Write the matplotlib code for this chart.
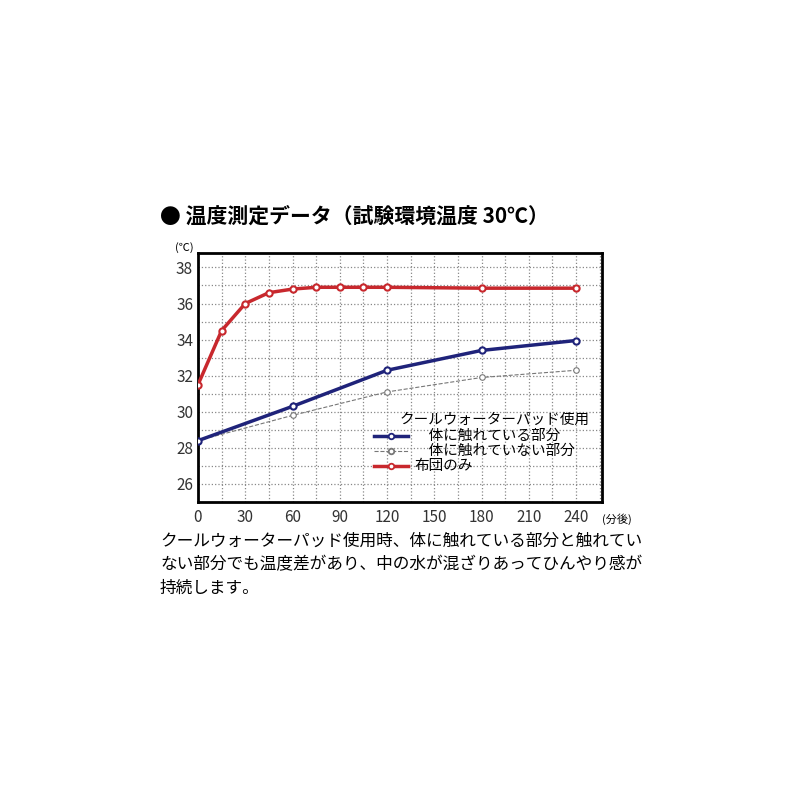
import matplotlib.pyplot as plt

plt.rcParams['font.family'] = ['Noto Sans CJK JP', 'DejaVu Sans']

# === Data ===
red_x = [0, 15, 30, 45, 60, 75, 90, 105, 120, 180, 240]
red_y = [31.5, 34.5, 36.0, 36.6, 36.8, 36.9, 36.9, 36.9, 36.9, 36.85, 36.85]
blue_x = [0, 60, 120, 180, 240]
blue_y = [28.4, 30.3, 32.3, 33.4, 33.95]
gray_x = [0, 60, 120, 180, 240]
gray_y = [28.4, 29.8, 31.1, 31.9, 32.3]
x_ticks = [0, 30, 60, 90, 120, 150, 180, 210, 240]
y_ticks = [26, 28, 30, 32, 34, 36, 38]

W = H = 800
fig = plt.figure(figsize=(8, 8), dpi=100)
ax = fig.add_axes([198 / W, 1 - 502 / H, (602 - 198) / W, (502 - 253) / H])

ax.plot(red_x, red_y, color='#c8282d', lw=2.5, marker='o', ms=4.5, mfc='white', mec='#c8282d', mew=1.5, zorder=4)
ax.plot(blue_x, blue_y, color='#1f237a', lw=2.5, marker='o', ms=4.5, mfc='white', mec='#1f237a', mew=1.5, zorder=4)
ax.plot(gray_x, gray_y, color='#777777', lw=0.8, ls='--', marker='o', ms=4, mfc='white', mec='#777777', mew=0.8, zorder=3)

ax.set_xlim(0, 256.5)
ax.set_ylim(25.0, 38.8)
ax.set_xticks(x_ticks)
ax.set_yticks(y_ticks)
ax.set_xticks(range(15, 256, 30), minor=True)
ax.set_yticks(range(25, 39), minor=True)
ax.grid(True, which='both', color='#888888', ls=':', lw=0.9)
ax.tick_params(which='both', length=0, labelsize=11, colors='#333333')
ax.tick_params(axis='x', pad=5)
for s in ax.spines.values():
    s.set_linewidth(2)

ax.text(-0.01, 1.0, '(℃)', transform=ax.transAxes, ha='right', va='bottom', fontsize=8)
ax.text(1.0, -0.045, '(分後)', transform=ax.transAxes, ha='left', va='top', fontsize=8)

# legend drawn by hand, in axes coords
ax.text(0.97, 0.33, 'クールウォーターパッド使用', transform=ax.transAxes, ha='right', va='center', fontsize=10.5)
items = [('#1f237a', 2.5, '-', '　体に触れている部分'),
         ('#777777', 0.8, '--', '　体に触れていない部分'),
         ('#c8282d', 2.5, '-', '布団のみ')]
for i, (c, lw, ls, lab) in enumerate(items):
    y = 0.265 - i * 0.06
    ax.plot([0.435, 0.52], [y, y], transform=ax.transAxes, color=c, lw=lw, ls=ls, zorder=5)
    ax.plot([0.4775], [y], transform=ax.transAxes, marker='o', ms=4, mfc='white', mec=c, mew=1.3, zorder=6)
    ax.text(0.535, y, lab, transform=ax.transAxes, ha='left', va='center', fontsize=10.5)

fig.text(160 / W, 1 - 216 / H, '● 温度測定データ（試験環境温度 30℃）', fontsize=15, fontweight='bold', va='center')
fig.text(160 / W, 1 - 565 / H,
         'クールウォーターパッド使用時、体に触れている部分と触れてい\n'
         'ない部分でも温度差があり、中の水が混ざりあってひんやり感が\n'
         '持続します。',
         fontsize=12, va='center', linespacing=1.5)

fig.savefig('out.png')
